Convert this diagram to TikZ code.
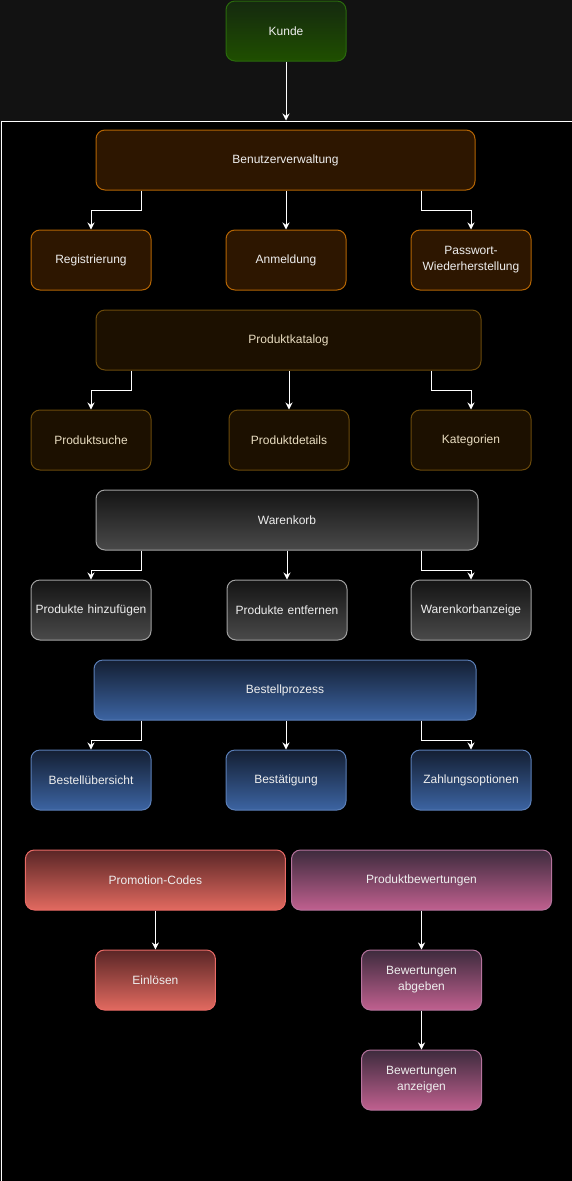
\documentclass[tikz,border=0pt]{standalone}
\usepackage{fontspec}
\setmainfont{Liberation Sans}
\usetikzlibrary{arrows.meta}
\definecolor{bgtop}{HTML}{121212}
\definecolor{kTop}{HTML}{15290F}\definecolor{kBot}{HTML}{1F4F00}\definecolor{kBd}{HTML}{2A6A0C}
\definecolor{bvFill}{HTML}{2D1600}\definecolor{bvBd}{HTML}{B46504}
\definecolor{pkFill}{HTML}{1C1000}\definecolor{pkBd}{HTML}{6B4A0B}
\definecolor{wkTop}{HTML}{141414}\definecolor{wkBot}{HTML}{4A4A4A}\definecolor{wkBd}{HTML}{A0A0A0}
\definecolor{bpTop}{HTML}{141F33}\definecolor{bpBot}{HTML}{3C64A2}\definecolor{bpBd}{HTML}{5B7FB8}
\definecolor{prTop}{HTML}{5A2626}\definecolor{prBot}{HTML}{E26A60}\definecolor{prBd}{HTML}{EA6B66}
\definecolor{pbTop}{HTML}{3D2B3D}\definecolor{pbBot}{HTML}{C0608F}\definecolor{pbBd}{HTML}{B5739D}
\definecolor{txt}{HTML}{EEEEEE}
\definecolor{txtc}{HTML}{E8DCC0}
\tikzset{
  base/.style={rounded corners=9pt, inner sep=0pt, minimum height=60pt, align=center,
    font=\fontsize{12}{16}\selectfont, text=txt, line width=1pt},
  small/.style={base, minimum width=120pt, text width=118pt},
  kbox/.style={small, draw=kBd, top color=kTop, bottom color=kBot, text=txt},
  bvbox/.style={draw=bvBd, fill=bvFill},
  pkbox/.style={draw=pkBd, fill=pkFill, text=txtc},
  wkbox/.style={draw=wkBd, top color=wkTop, bottom color=wkBot},
  bpbox/.style={draw=bpBd, top color=bpTop, bottom color=bpBot},
  prbox/.style={draw=prBd, top color=prTop, bottom color=prBot},
  pbbox/.style={draw=pbBd, top color=pbTop, bottom color=pbBot},
  arr/.style={draw=white, line width=1pt, -{Stealth[length=7pt,width=7pt]}},
  frame/.style={draw=white, fill=black, line width=1pt, inner sep=0pt}
}
\begin{document}
\begin{tikzpicture}[x=1pt,y=-1pt]
\useasboundingbox (0,0) rectangle (572,1181);
\fill[bgtop] (0,0) rectangle (572,1181);
\node[frame, minimum width=571pt, minimum height=1060pt, anchor=north west] (frm) at (0.5,120.5) {};

\node[kbox] (kunde) at (286,31) {Kunde};

\node[base, bvbox, minimum width=379pt] (bv) at (285.5,160) {Benutzerverwaltung};
\node[small, bvbox] (reg) at (91,260) {Registrierung};
\node[small, bvbox] (anm) at (286,260) {Anmeldung};
\node[small, bvbox] (pw) at (471,260) {Passwort-\\Wiederherstellung};

\node[base, pkbox, minimum width=385pt] (pk) at (288.5,340) {Produktkatalog};
\node[small, pkbox] (ps) at (91,440) {Produktsuche};
\node[small, pkbox] (pd) at (289,440) {Produktdetails};
\node[small, pkbox] (kat) at (471,440) {Kategorien};

\node[base, wkbox, minimum width=382pt] (wk) at (287,520) {Warenkorb};
\node[small, wkbox] (ph) at (91,610) {Produkte hinzufügen};
\node[small, wkbox] (pe) at (287,610) {Produkte entfernen};
\node[small, wkbox] (wa) at (471,610) {Warenkorbanzeige};

\node[base, bpbox, minimum width=382pt] (bp) at (285,690) {Bestellprozess};
\node[small, bpbox] (bu) at (91,780) {Bestellübersicht};
\node[small, bpbox] (bst) at (286,780) {Bestätigung};
\node[small, bpbox] (zo) at (471,780) {Zahlungsoptionen};

\node[base, prbox, minimum width=260pt] (promo) at (155.4,880) {Promotion-Codes};
\node[small, prbox] (ein) at (155.4,980) {Einlösen};

\node[base, pbbox, minimum width=260pt] (pb) at (421.5,880) {Produktbewertungen};
\node[small, pbbox] (ba) at (421.5,980) {Bewertungen\\abgeben};
\node[small, pbbox] (bz) at (421.5,1080) {Bewertungen\\anzeigen};

% connectors
\draw[arr] (kunde.south) -- (kunde.south |- frm.north);

\draw[arr] ([xshift=45.5pt]bv.south west) -- ++(0,20) -| (reg.north);
\draw[arr] (bv.south -| anm.north) -- (anm.north);
\draw[arr] ([xshift=-54pt]bv.south east) -- ++(0,20) -| (pw.north);

\draw[arr] ([xshift=35.5pt]pk.south west) -- ++(0,20) -| (ps.north);
\draw[arr] (pk.south -| pd.north) -- (pd.north);
\draw[arr] ([xshift=-50pt]pk.south east) -- ++(0,20) -| (kat.north);

\draw[arr] ([xshift=45.5pt]wk.south west) -- ++(0,20) -| (ph.north);
\draw[arr] (wk.south -| pe.north) -- (pe.north);
\draw[arr] ([xshift=-56.7pt]wk.south east) -- ++(0,20) -| (wa.north);

\draw[arr] ([xshift=47.5pt]bp.south west) -- ++(0,20) -| (bu.north);
\draw[arr] (bp.south -| bst.north) -- (bst.north);
\draw[arr] ([xshift=-54.7pt]bp.south east) -- ++(0,20) -| (zo.north);

\draw[arr] (promo.south) -- (ein.north);
\draw[arr] (pb.south) -- (ba.north);
\draw[arr] (ba.south) -- (bz.north);
\end{tikzpicture}
\end{document}
